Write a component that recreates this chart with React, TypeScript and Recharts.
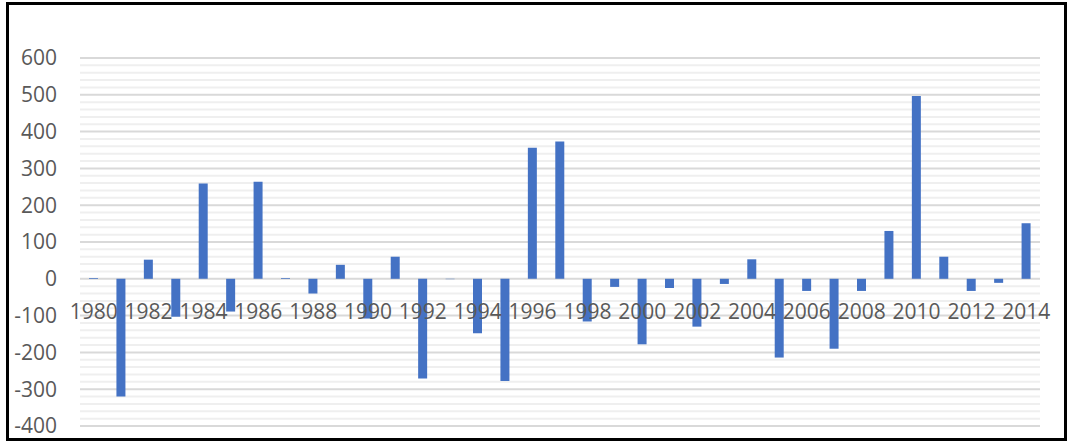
import React from "react";
import { BarChart, Bar, XAxis, YAxis, CartesianGrid } from "recharts";

const years = [
  "1980","1981","1982","1983","1984","1985","1986","1987","1988","1989",
  "1990","1991","1992","1993","1994","1995","1996","1997","1998","1999",
  "2000","2001","2002","2003","2004","2005","2006","2007","2008","2009",
  "2010","2011","2012","2013","2014",
];
const values = [
  2, -320, 52, -103, 259, -89, 264, 2, -40, 38,
  -108, 60, -271, -1, -148, -278, 356, 373, -116, -22,
  -178, -25, -130, -14, 53, -214, -33, -190, -33, 130,
  497, 60, -33, -11, 151,
];
const yTicks = [-400, -300, -200, -100, 0, 100, 200, 300, 400, 500, 600];
const minorTicks = [
  -380, -360, -340, -320, -280, -260, -240, -220, -180, -160, -140, -120,
  -80, -60, -40, -20, 20, 40, 60, 80, 120, 140, 160, 180, 220, 240, 260, 280,
  320, 340, 360, 380, 420, 440, 460, 480, 520, 540, 560, 580,
];

const Y_MIN = -400;
const Y_MAX = 600;
const CHART_W = 1055;
const CHART_H = 433;
const MARGIN = { top: 53, right: 24, bottom: 0, left: 0 };
const X_AXIS_H = 12;
const PLOT_H = CHART_H - MARGIN.top - MARGIN.bottom - X_AXIS_H;

const data = years.map((y, i) => ({ year: y, value: values[i] }));

const FONT = "'Open Sans', 'Liberation Sans', sans-serif";
const TEXT_COLOR = "#595959";
const FONT_SIZE = 21;

const XTick = (props: any) => {
  const { x, y, payload } = props;
  const zeroOffset = (PLOT_H * (0 - Y_MIN)) / (Y_MAX - Y_MIN);
  return (
    <text
      x={x}
      y={y - zeroOffset + 40}
      textAnchor="middle"
      fill={TEXT_COLOR}
      fontSize={FONT_SIZE}
      fontFamily={FONT}
    >
      {payload.value}
    </text>
  );
};

export default function App() {
  return (
    <div
      style={{
        position: "absolute",
        left: 6,
        top: 2,
        width: 1061,
        height: 439,
        boxSizing: "border-box",
        border: "3px solid #000",
        background: "#fff",
      }}
    >
      <BarChart
        width={CHART_W}
        height={CHART_H}
        data={data}
        margin={MARGIN}
        barSize={9}
      >
        <CartesianGrid
          yAxisId="minor"
          horizontal={true}
          vertical={false}
          horizontalValues={minorTicks}
          stroke="#efefef"
          strokeWidth={2}
        />
        <CartesianGrid
          yAxisId="main"
          horizontal={true}
          vertical={false}
          horizontalValues={yTicks}
          stroke="#d9d9d9"
          strokeWidth={2}
        />
        <XAxis
          dataKey="year"
          height={X_AXIS_H}
          axisLine={false}
          tickLine={false}
          tickSize={0}
          tickMargin={0}
          interval={1}
          tick={<XTick />}
        />
        <YAxis
          yAxisId="main"
          width={71}
          domain={[Y_MIN, Y_MAX]}
          ticks={yTicks}
          interval={0}
          axisLine={false}
          tickLine={false}
          tickSize={0}
          tickMargin={23}
          tick={{ fill: TEXT_COLOR, fontSize: FONT_SIZE, fontFamily: FONT }}
          allowDataOverflow
        />
        <YAxis
          yAxisId="minor"
          hide
          domain={[Y_MIN, Y_MAX]}
          ticks={minorTicks}
          interval={0}
          allowDataOverflow
        />
        <Bar
          yAxisId="main"
          dataKey="value"
          fill="#4472C4"
          isAnimationActive={false}
        />
      </BarChart>
    </div>
  );
}
